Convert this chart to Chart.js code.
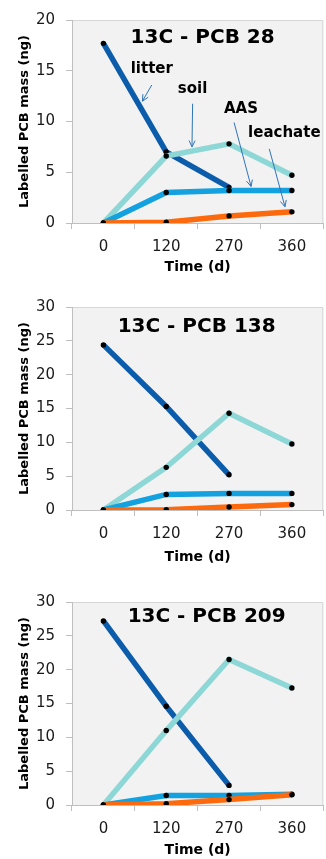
<!DOCTYPE html>
<html>
<head>
<meta charset="utf-8">
<script src="https://cdn.jsdelivr.net/npm/chart.js@4.4.1/dist/chart.umd.min.js"></script>
<style>
  body { margin: 0; background: #fff; width: 326px; height: 859px; overflow: hidden; position: relative; }
  canvas { position: absolute; left: 0; }
</style>
</head>
<body>
<canvas id="c28" width="326" height="285" style="top:0px"></canvas>
<canvas id="c138" width="326" height="285" style="top:290px"></canvas>
<canvas id="c209" width="326" height="285" style="top:578px"></canvas>
<script>
const days = ['0', '120', '270', '360'];

const pcb28Litter = [17.7, 7.0, 3.5, null];
const pcb28Soil = [0, 6.6, 7.8, 4.7];
const pcb28AAS = [0, 3.0, 3.2, 3.2];
const pcb28Leachate = [0, 0.07, 0.7, 1.1];

const pcb138Litter = [24.4, 15.3, 5.2, null];
const pcb138Soil = [0, 6.3, 14.3, 9.75];
const pcb138AAS = [0, 2.3, 2.45, 2.45];
const pcb138Leachate = [0, 0.05, 0.45, 0.8];

const pcb209Litter = [27.2, 14.6, 2.9, null];
const pcb209Soil = [0, 11.0, 21.5, 17.3];
const pcb209AAS = [0, 1.4, 1.4, 1.6];
const pcb209Leachate = [0, 0.2, 0.8, 1.5];

const yMax28 = 20;
const yMax = 30;

// labels with arrows, placed in data space (category index, value)
const notes28 = [
  { text: 'litter', at: [0.77, 15.2], from: [0.77, 13.6], to: [0.62, 12.0] },
  { text: 'soil', at: [1.42, 13.2], from: [1.42, 11.75], to: [1.41, 7.5] },
  { text: 'AAS', at: [2.19, 11.25], from: [2.08, 9.9], to: [2.35, 3.6] },
  { text: 'leachate', at: [2.88, 8.9], from: [2.64, 7.3], to: [2.89, 1.6] }
];

const FONT = "'DejaVu Sans', Verdana, sans-serif";
const colors = { litter: '#0b5cab', soil: '#8dd7d6', aas: '#13a1e0', leachate: '#fd6a0e' };

// grey plot box, title inside the box, arrow notes
function panel(title, dx, dy, notes) {
  return {
    id: 'panel',
    beforeDraw(chart) {
      const { ctx, chartArea: a } = chart;
      ctx.save();
      ctx.fillStyle = '#f2f2f2';
      ctx.fillRect(a.left, a.top, a.right - a.left, a.bottom - a.top);
      ctx.strokeStyle = '#d6d6d6';
      ctx.lineWidth = 1;
      ctx.beginPath();
      ctx.moveTo(a.left, a.top + 0.5);
      ctx.lineTo(a.right - 0.5, a.top + 0.5);
      ctx.lineTo(a.right - 0.5, a.bottom);
      ctx.stroke();
      ctx.restore();
    },
    afterDatasetsDraw(chart) {
      const { ctx, chartArea: a, scales } = chart;
      ctx.save();
      ctx.fillStyle = '#000';
      ctx.font = 'bold 20px ' + FONT;
      ctx.textAlign = 'center';
      ctx.textBaseline = 'middle';
      ctx.fillText(title, (a.left + a.right) / 2 + dx, a.top + dy);
      const px = p => [scales.x.getPixelForValue(p[0]), scales.y.getPixelForValue(p[1])];
      notes.forEach(n => {
        const t = px(n.at);
        ctx.font = 'bold 15px ' + FONT;
        ctx.fillText(n.text, t[0], t[1]);
        const f = px(n.from), e = px(n.to);
        ctx.strokeStyle = '#2f74ba';
        ctx.lineWidth = 1;
        ctx.beginPath();
        ctx.moveTo(f[0], f[1]);
        ctx.lineTo(e[0], e[1]);
        const ang = Math.atan2(e[1] - f[1], e[0] - f[0]);
        const h = 7;
        ctx.moveTo(e[0] - h * Math.cos(ang - 0.45), e[1] - h * Math.sin(ang - 0.45));
        ctx.lineTo(e[0], e[1]);
        ctx.lineTo(e[0] - h * Math.cos(ang + 0.45), e[1] - h * Math.sin(ang + 0.45));
        ctx.stroke();
      });
      ctx.restore();
    }
  };
}

function series(data, color) {
  return {
    data: data,
    borderColor: color,
    borderWidth: 5.5,
    tension: 0,
    pointRadius: 2.7,
    pointHoverRadius: 2.7,
    pointBackgroundColor: '#000',
    pointBorderWidth: 0
  };
}

function makeChart(id, title, litter, soil, aas, leachate, max, layout, notes) {
  return new Chart(document.getElementById(id), {
    type: 'line',
    data: {
      labels: days,
      // later Excel series sit on top, Chart.js draws index 0 last
      datasets: [
        series(leachate, colors.leachate),
        series(aas, colors.aas),
        series(soil, colors.soil),
        series(litter, colors.litter)
      ]
    },
    options: {
      responsive: false,
      animation: false,
      layout: { padding: { top: layout.top, right: 1, left: 0, bottom: 0 } },
      plugins: { legend: { display: false }, tooltip: { enabled: false } },
      scales: {
        x: {
          offset: true,
          grid: { drawOnChartArea: false, tickLength: 6, color: '#bfbfbf', offset: true },
          border: { color: '#bfbfbf' },
          ticks: { color: '#1a1a1a', font: { family: FONT, size: 15 }, padding: 9, maxRotation: 0 },
          title: { display: true, text: 'Time (d)', color: '#000', font: { family: FONT, size: 14, weight: 'bold' }, padding: { top: 0, bottom: layout.tpb } },
          afterFit: s => { s.height = 285 - layout.bottom; s.paddingLeft = 0; s.paddingRight = 0; }
        },
        y: {
          min: 0,
          max: max,
          grid: { drawOnChartArea: false, tickLength: 6, color: '#bfbfbf' },
          border: { color: '#bfbfbf' },
          ticks: { stepSize: 5, color: '#1a1a1a', font: { family: FONT, size: 15 }, padding: 11 },
          title: { display: true, text: 'Labelled PCB mass (ng)', color: '#000', font: { family: FONT, size: 13, weight: 'bold' }, padding: { top: 17, bottom: 0 } },
          afterFit: s => { s.width = 72; s.paddingTop = 0; s.paddingBottom = 0; }
        }
      }
    },
    plugins: [panel(title, layout.dx, layout.dy, notes)]
  });
}

makeChart('c28', '13C - PCB 28', pcb28Litter, pcb28Soil, pcb28AAS, pcb28Leachate, yMax28,
  { top: 20, bottom: 223, tpb: 9.6, dx: 5, dy: 18 }, notes28);
makeChart('c138', '13C - PCB 138', pcb138Litter, pcb138Soil, pcb138AAS, pcb138Leachate, yMax,
  { top: 17, bottom: 220, tpb: 9.6, dx: -1, dy: 20 }, []);
makeChart('c209', '13C - PCB 209', pcb209Litter, pcb209Soil, pcb209AAS, pcb209Leachate, yMax,
  { top: 24, bottom: 227, tpb: 4.6, dx: 9, dy: 15 }, []);
</script>
</body>
</html>
